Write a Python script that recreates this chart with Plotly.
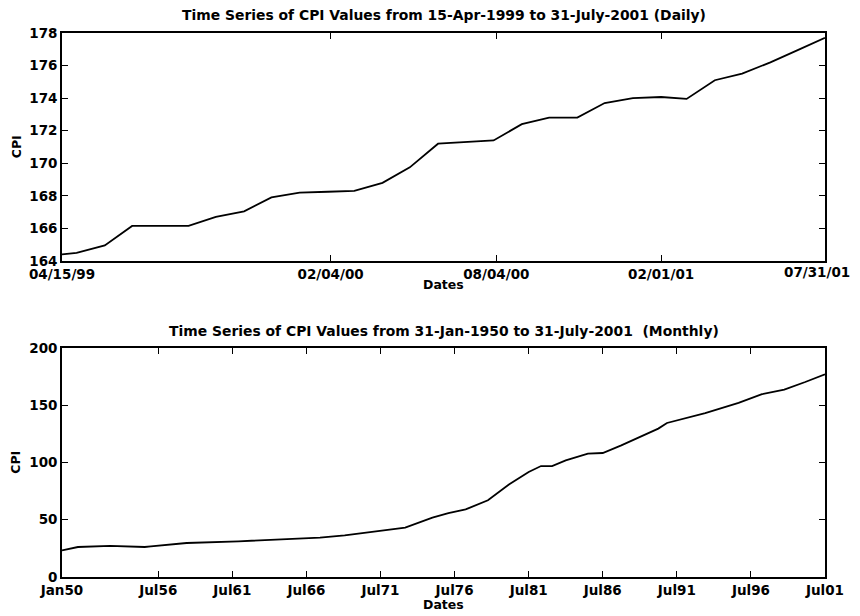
import plotly.graph_objects as go
from plotly.subplots import make_subplots

# Daily CPI (top panel), knots
daily_dates = ["1999-04-15", "1999-05-01", "1999-06-01", "1999-07-01", "1999-08-01",
               "1999-09-01", "1999-10-01", "1999-11-01", "1999-12-01", "2000-01-01",
               "2000-02-01", "2000-03-01", "2000-04-01", "2000-05-01", "2000-06-01",
               "2000-07-01", "2000-08-01", "2000-09-01", "2000-10-01", "2000-11-01",
               "2000-12-01", "2001-01-01", "2001-02-01", "2001-03-01", "2001-04-01",
               "2001-05-01", "2001-06-01", "2001-07-01", "2001-07-31"]
daily_cpi = [164.4, 164.5, 164.95, 166.15, 166.15,
             166.15, 166.7, 167.05, 167.9, 168.2,
             168.25, 168.3, 168.8, 169.75, 171.2,
             171.3, 171.4, 172.4, 172.8, 172.8,
             173.7, 174.0, 174.07, 173.95, 175.1,
             175.5, 176.2, 176.95, 177.7]

# Monthly CPI (bottom panel)
monthly_dates = ["1950-01-31", "1951-02-28", "1953-04-30", "1955-08-31", "1956-01-31",
                 "1958-06-30", "1961-12-31", "1965-03-31", "1967-06-30", "1969-02-28",
                 "1971-01-31", "1973-03-31", "1975-01-31", "1976-02-29", "1977-04-30",
                 "1978-10-31", "1980-03-31", "1981-07-31", "1982-05-31", "1983-02-28",
                 "1984-01-31", "1985-07-31", "1986-07-31", "1987-10-31", "1990-04-30",
                 "1990-11-30", "1993-06-30", "1995-09-30", "1997-04-30", "1998-10-31",
                 "2000-03-31", "2001-07-31"]
monthly_cpi = [23.3, 26.2, 27.1, 26.2, 26.7,
               29.7, 31.2, 32.9, 34.4, 36.4,
               39.3, 43.1, 51.9, 55.8, 59.0,
               67.0, 80.7, 91.7, 96.9, 96.9,
               101.9, 107.8, 108.3, 115.0, 129.6,
               134.5, 143.2, 152.0, 159.6, 163.7,
               170.3, 177.0]

top_tick_vals = ["1999-04-15", "2000-02-04", "2000-08-04", "2001-02-01", "2001-07-31"]
top_tick_text = ["04/15/99", "02/04/00", "08/04/00", "02/01/01", "07/31/01"]
top_y_ticks = [164, 166, 168, 170, 172, 174, 176, 178]

bot_tick_vals = ["1950-01-31", "1956-07-31", "1961-07-31", "1966-07-31", "1971-07-31",
                 "1976-07-31", "1981-07-31", "1986-07-31", "1991-07-31", "1996-07-31",
                 "2001-07-31"]
bot_tick_text = ["Jan50", "Jul56", "Jul61", "Jul66", "Jul71", "Jul76", "Jul81",
                 "Jul86", "Jul91", "Jul96", "Jul01"]
bot_y_ticks = [0, 50, 100, 150, 200]

title_top = "Time Series of CPI Values from 15-Apr-1999 to 31-July-2001 (Daily)"
title_bot = "Time Series of CPI Values from 31-Jan-1950 to 31-July-2001  (Monthly)"

FONT = "DejaVu Sans, Arial, sans-serif"
tick_font = dict(family=FONT, size=13.5, color="black", weight="bold")

fig = make_subplots(rows=2, cols=1)
fig.add_trace(go.Scatter(x=daily_dates, y=daily_cpi, mode="lines",
                         line=dict(color="black", width=1.8), showlegend=False), row=1, col=1)
fig.add_trace(go.Scatter(x=monthly_dates, y=monthly_cpi, mode="lines",
                         line=dict(color="black", width=1.8), showlegend=False), row=2, col=1)

axis_common = dict(showline=True, linecolor="black", linewidth=1.6, mirror="ticks",
                   ticks="inside", ticklen=6, tickwidth=1.3, tickcolor="black",
                   showgrid=False, zeroline=False, automargin=False, tickfont=tick_font)

# last top tick label is drawn as an annotation, right-aligned so it is not clipped
top_tick_text_axis = top_tick_text[:-1] + [""]

# page body adds an 8px offset; the figure is sized to end at the window edge
fig.update_layout(
    width=844, height=608,
    margin=dict(l=54, r=27, t=25, b=39),
    paper_bgcolor="white", plot_bgcolor="white",
    xaxis=dict(domain=[0, 1], range=["1999-04-15", "2001-07-31"], type="date",
               tickvals=top_tick_vals, ticktext=top_tick_text_axis, **axis_common),
    yaxis=dict(domain=[0.581, 1], range=[164, 178], tickvals=top_y_ticks, **axis_common),
    xaxis2=dict(domain=[0, 1], range=["1950-01-31", "2001-07-31"], type="date",
                tickvals=bot_tick_vals, ticktext=bot_tick_text, **axis_common),
    yaxis2=dict(domain=[0, 0.421], range=[0, 200], tickvals=bot_y_ticks, **axis_common),
)

fig.add_annotation(text=top_tick_text[-1], xref="paper", yref="paper", x=1, y=0.581,
                   xshift=27, yshift=-11, showarrow=False, font=tick_font,
                   xanchor="right", yanchor="middle")

ann_font = dict(family=FONT, size=13.9, color="black", weight="bold")
lab_font = dict(family=FONT, size=12.5, color="black", weight="bold")
fig.add_annotation(text=title_top, xref="paper", yref="paper", x=0.5, y=1,
                   yshift=18, showarrow=False, font=ann_font, xanchor="center", yanchor="middle")
fig.add_annotation(text=title_bot, xref="paper", yref="paper", x=0.5, y=0.421,
                   yshift=17, showarrow=False, font=ann_font, xanchor="center", yanchor="middle")
fig.add_annotation(text="Dates", xref="paper", yref="paper", x=0.5, y=0.581,
                   yshift=-24, showarrow=False, font=lab_font, xanchor="center", yanchor="middle")
fig.add_annotation(text="Dates", xref="paper", yref="paper", x=0.5, y=0,
                   yshift=-27, showarrow=False, font=lab_font, xanchor="center", yanchor="middle")
fig.add_annotation(text="CPI", xref="paper", yref="paper", x=0, y=0.79,
                   xshift=-46, showarrow=False, font=lab_font, textangle=-90,
                   xanchor="center", yanchor="middle")
fig.add_annotation(text="CPI", xref="paper", yref="paper", x=0, y=0.21,
                   xshift=-46, showarrow=False, font=lab_font, textangle=-90,
                   xanchor="center", yanchor="middle")

fig.write_html("out.html")
